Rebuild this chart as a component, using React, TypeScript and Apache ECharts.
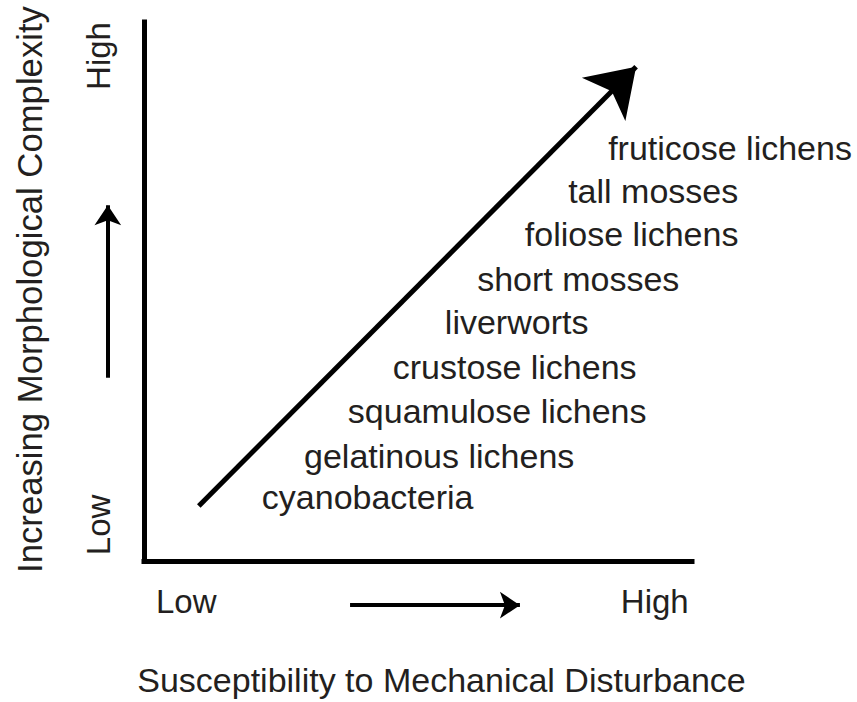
import React, { useEffect, useRef } from "react";
import * as echarts from "echarts";

// Organisms placed along the trend (susceptibility on x, complexity on y)
const organisms = [
  "cyanobacteria",
  "gelatinous lichens",
  "squamulose lichens",
  "crustose lichens",
  "liverworts",
  "short mosses",
  "foliose lichens",
  "tall mosses",
  "fruticose lichens",
];
const susceptibility = [21.5, 29.2, 37.2, 45.4, 54.9, 60.8, 69.5, 77.4, 84.7];
const complexity = [11.8, 19.5, 27.8, 36.0, 44.4, 52.3, 60.6, 68.7, 76.6];

// Main trend arrow
const trendStart = [10.0, 10.2];
const trendEnd = [89.8, 91.7];

// Axis level labels
const levelLabels = ["Low", "High"];
const xLevelPositions = [7.7, 93.2];
const yLevelPositions = [6.7, 93.7];

// Axis titles
const xTitle = "Susceptibility to Mechanical Disturbance";
const yTitle = "Increasing Morphological Complexity";

// Direction hint arrows beside the axes
const xHintArrow = [
  [37.6, -8.2],
  [68.6, -8.2],
];
const yHintArrow = [
  [-6.6, 34.0],
  [-6.6, 66.0],
];

const FONT = "'Liberation Sans', Arial, Helvetica, sans-serif";
const TEXT = "#231f20";

export default function App() {
  const ref = useRef<HTMLDivElement>(null);

  useEffect(() => {
    if (!ref.current) return;
    const chart = echarts.init(ref.current, undefined, { renderer: "svg" });

    const labelFor = (v: number) => (v < 50 ? levelLabels[0] : levelLabels[1]);

    chart.setOption({
      animation: false,
      backgroundColor: "#ffffff",
      grid: {
        left: 144,
        right: 165,
        top: 22,
        bottom: 141,
        containLabel: false,
        outerBoundsMode: "none",
      },
      xAxis: {
        type: "value",
        min: 0,
        max: 100,
        splitLine: { show: false },
        axisTick: { show: false },
        axisLine: {
          show: true,
          onZero: false,
          lineStyle: { color: "#000", width: 5, cap: "square" },
        },
        axisLabel: {
          show: true,
          customValues: xLevelPositions,
          formatter: labelFor,
          margin: 24,
          fontSize: 33,
          fontFamily: FONT,
          color: TEXT,
        },
        name: xTitle,
        nameLocation: "middle",
        nameGap: 102,
        nameMoveOverlap: false,
        nameTextStyle: {
          fontSize: 34,
          fontFamily: FONT,
          color: TEXT,
          padding: [0, 0, 0, 47],
        },
      },
      yAxis: {
        type: "value",
        min: 0,
        max: 100,
        splitLine: { show: false },
        axisTick: { show: false },
        axisLine: {
          show: true,
          onZero: false,
          lineStyle: { color: "#000", width: 5, cap: "square" },
        },
        axisLabel: {
          show: true,
          customValues: yLevelPositions,
          formatter: labelFor,
          rotate: 90,
          margin: 29,
          fontSize: 33,
          fontFamily: FONT,
          color: TEXT,
        },
        name: yTitle,
        nameLocation: "middle",
        nameGap: 97,
        nameRotate: 90,
        nameMoveOverlap: false,
        nameTextStyle: {
          fontSize: 34.7,
          fontFamily: FONT,
          color: TEXT,
          padding: [0, 0, 0, 4],
        },
      },
      series: [
        {
          type: "lines",
          coordinateSystem: "cartesian2d",
          clip: false,
          symbol: ["none", "arrow"],
          symbolSize: [36, 46],
          lineStyle: { color: "#000", width: 5, opacity: 1 },
          itemStyle: { color: "#000" },
          data: [{ coords: [trendStart, trendEnd] }],
        },
        {
          type: "lines",
          coordinateSystem: "cartesian2d",
          clip: false,
          symbol: ["none", "arrow"],
          symbolSize: [16, 20],
          lineStyle: { color: "#000", width: 4, opacity: 1 },
          itemStyle: { color: "#000" },
          data: [{ coords: xHintArrow }, { coords: yHintArrow }],
        },
        {
          type: "scatter",
          symbolSize: 0,
          silent: true,
          itemStyle: { opacity: 1 },
          data: organisms.map((name, i) => ({
            name,
            value: [susceptibility[i], complexity[i]],
          })),
          label: {
            show: true,
            position: "right",
            distance: 0,
            formatter: (p: any) => p.name,
            fontSize: 34,
            fontFamily: FONT,
            color: TEXT,
          },
        },
      ],
    });

    return () => chart.dispose();
  }, []);

  return <div ref={ref} style={{ width: 857, height: 702, position: "fixed", left: 0, top: 0 }} />;
}
